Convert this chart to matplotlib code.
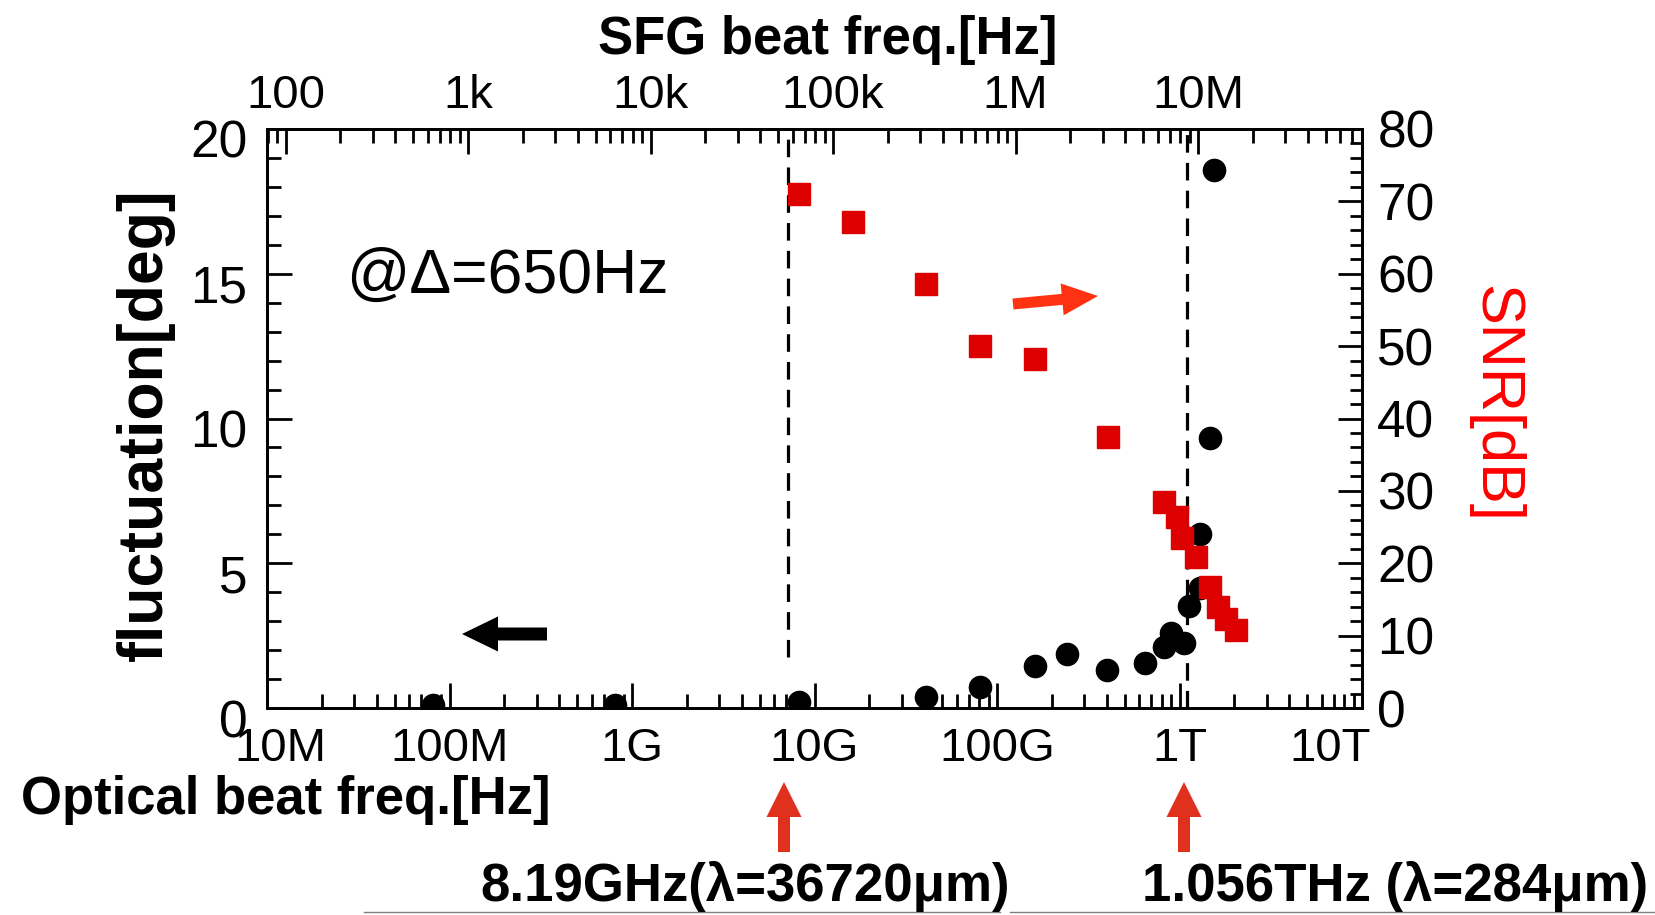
import matplotlib
matplotlib.use('Agg')
import matplotlib.pyplot as plt
from matplotlib import ticker, transforms
from matplotlib.patches import FancyArrow

plt.rcParams['font.family'] = ['Liberation Sans', 'DejaVu Sans']

# fluctuation (left axis, black circles)
fluc_freq = [8.1e7, 8.1e8, 8.19e9, 4.07e10, 8.07e10, 1.61e11, 2.42e11, 4.0e11, 6.46e11,
             8.2e11, 8.98e11, 1.06e12, 1.13e12, 1.29e12, 1.29e12, 1.47e12, 1.55e12]
fluc_deg = [0.1, 0.1, 0.22, 0.38, 0.73, 1.45, 1.87, 1.31, 1.55,
            2.1, 2.59, 2.25, 3.52, 4.15, 6.0, 9.33, 18.58]

# SNR (right axis, red squares)
snr_freq = [8.19e9, 1.63e10, 4.07e10, 8.07e10, 1.61e11, 4.06e11, 8.2e11,
            9.68e11, 1.03e12, 1.23e12, 1.47e12, 1.63e12, 1.8e12, 2.04e12]
snr_db = [71.0, 67.2, 58.6, 50.0, 48.2, 37.4, 28.5, 26.4, 23.5, 20.9, 16.7, 14.0, 12.3, 10.8]

# dashed marker lines (optical beat freq)
mark_freq = [7.16e9, 1.1e12]
mark_from = [1.76, 0.0]

bottom_ticks = [1e7, 1e8, 1e9, 1e10, 1e11, 1e12, 1e13]
bottom_labels = ['10M', '100M', '1G', '10G', '100G', '1T', '10T']
top_ticks = [1e2, 1e3, 1e4, 1e5, 1e6, 1e7]
top_labels = ['100', '1k', '10k', '100k', '1M', '10M']
sfg_div = 1.263e5  # optical / SFG

fig = plt.figure(figsize=(16.55, 9.15), dpi=100)
ax = fig.add_axes([267 / 1655, 1 - 708 / 915, 1095 / 1655, 579 / 915])

ax.set_xscale('log')
ax.set_xlim(1e7, 1e13)
ax.set_ylim(0, 20)

for f, y0 in zip(mark_freq, mark_from):
    ax.plot([f, f], [y0, 20], color='black', lw=2.3, dashes=(5.5, 3.2), zorder=1)

ax.plot(fluc_freq, fluc_deg, 'o', color='black', ms=16, zorder=3)

ax.set_xticks(bottom_ticks, bottom_labels)
ax.xaxis.set_minor_locator(ticker.LogLocator(base=10, subs=range(2, 10), numticks=50))
ax.xaxis.set_minor_formatter(ticker.NullFormatter())
ax.set_yticks([0, 5, 10, 15, 20])
ax.yaxis.set_minor_locator(ticker.MultipleLocator(1))
ax.tick_params(which='both', direction='in', width=2, top=False, right=False)
ax.tick_params(which='major', length=18)
ax.tick_params(which='minor', length=10)
ax.tick_params(axis='x', labelsize=34, pad=14)
ax.tick_params(axis='y', labelsize=37, pad=14)
for s in ax.spines.values():
    s.set_linewidth(2)

off = transforms.ScaledTranslation(0, -0.10, fig.dpi_scale_trans)
for lab in ax.get_yticklabels():
    lab.set_transform(lab.get_transform() + off)
# end labels nudged inwards like the original
xl = ax.get_xticklabels()
xl[0].set_transform(xl[0].get_transform() + transforms.ScaledTranslation(0.13, 0, fig.dpi_scale_trans))
xl[-1].set_transform(xl[-1].get_transform() + transforms.ScaledTranslation(-0.32, 0, fig.dpi_scale_trans))

# right axis
ax2 = ax.twinx()
ax2.set_ylim(0, 80)
ax2.plot(snr_freq, snr_db, 's', color='#dd0000', ms=16, zorder=4)
ax2.set_yticks(range(0, 81, 10))
ax2.yaxis.set_minor_locator(ticker.MultipleLocator(2))
ax2.tick_params(which='both', direction='in', width=2, labelsize=37, pad=11)
ax2.tick_params(which='major', length=17)
ax2.tick_params(which='minor', length=9)
for s in ax2.spines.values():
    s.set_linewidth(2)

# top axis (SFG beat freq)
secax = ax.secondary_xaxis('top', functions=(lambda x: x / sfg_div, lambda x: x * sfg_div))
secax.set_xscale('log')
secax.set_xticks(top_ticks, top_labels)
secax.xaxis.set_minor_locator(ticker.LogLocator(base=10, subs=range(2, 10), numticks=50))
secax.xaxis.set_minor_formatter(ticker.NullFormatter())
secax.tick_params(which='both', direction='in', width=2, labelsize=34, pad=8)
secax.tick_params(which='major', length=18)
secax.tick_params(which='minor', length=10)
secax.spines['top'].set_linewidth(2)

# labels
fig.text(828 / 1655, 1 - 40 / 915, 'SFG beat freq.[Hz]', fontsize=38, fontweight='bold',
         ha='center', va='center')
fig.text(145 / 1655, 1 - 425 / 915, 'fluctuation[deg]', fontsize=45, fontweight='bold',
         rotation=90, ha='center', va='center')
fig.text(21 / 1655, 1 - 800 / 915, 'Optical beat freq.[Hz]', fontsize=38, fontweight='bold',
         ha='left', va='center')
fig.text(1495 / 1655, 1 - 404 / 915, 'SNR[dB]', fontsize=44, color='red',
         rotation=270, ha='center', va='center')
fig.text(346 / 1655, 1 - 293 / 915, '@Δ=650Hz', fontsize=45, ha='left', va='baseline')

# arrows (figure pixels, origin bottom-left)
H = 915
idt = transforms.IdentityTransform()
fig.add_artist(FancyArrow(547, H - 634, -85, 0, width=13, head_width=35, head_length=36,
                          length_includes_head=True, color='black', lw=0, transform=idt))
fig.add_artist(FancyArrow(1013, H - 304, 85, 8, width=11, head_width=32, head_length=36,
                          length_includes_head=True, color='#ff3311', lw=0, transform=idt))
for xa in [784, 1184]:
    fig.add_artist(FancyArrow(xa, H - 852, 0, 70, width=12, head_width=35, head_length=35,
                              length_includes_head=True, color='#e0301e', lw=0, transform=idt))

# wavelength notes at the bottom
fig.text(480 / 1655, 1 - 901 / 915, '8.19GHz(λ=36720μm)', fontsize=38, fontweight='bold',
         ha='left', va='baseline')
fig.text(1648 / 1655, 1 - 901 / 915, '1.056THz (λ=284μm)', fontsize=38, fontweight='bold',
         ha='right', va='baseline')
fig.add_artist(plt.Line2D([364 / 1655, 1000 / 1655], [3 / 915, 3 / 915], color='gray', lw=1))
fig.add_artist(plt.Line2D([1010 / 1655, 1], [3 / 915, 3 / 915], color='gray', lw=1))

fig.savefig('out.png', dpi=100)
